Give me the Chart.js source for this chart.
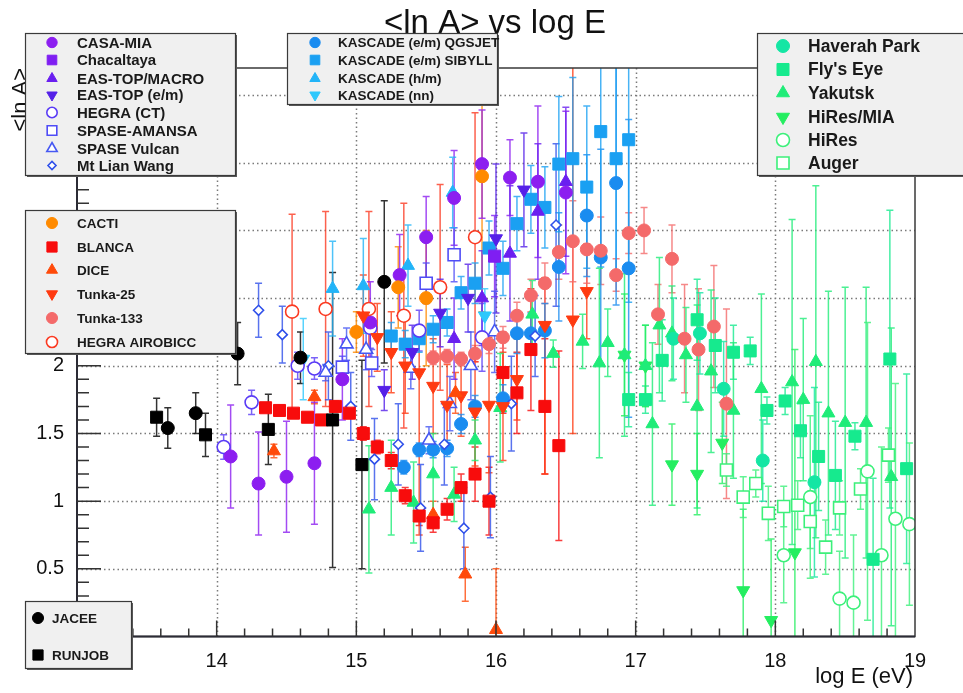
<!DOCTYPE html>
<html>
<head>
<meta charset="utf-8">
<title>&lt;ln A&gt; vs log E</title>
<script src="https://cdn.jsdelivr.net/npm/chart.js@4.4.1/dist/chart.umd.min.js"></script>
<style>
  html, body { margin: 0; padding: 0; background: #fff; }
  canvas { display: block; }
</style>
</head>
<body>
<canvas id="lnAChart" width="963" height="693"></canvas>
<script>
"use strict";

// log10(E / eV), <ln A> and its error for every experiment
// an error is either symmetric or [below, above]
const jaceeE = [13.65, 13.85, 14.15, 14.6, 15.2];
const jaceeLnA = [1.54, 1.65, 2.09, 2.06, 2.62];
const jaceeErr = [0.15, 0.15, 0.23, 0.19, 0.6];

const runjobE = [13.57, 13.92, 14.37, 14.83, 15.04];
const runjobLnA = [1.62, 1.49, 1.53, 1.6, 1.27];
const runjobErr = [0.14, 0.16, 0.26, 1.09, 0.77];

const casaMiaE = [14.1, 14.3, 14.5, 14.7, 14.9, 15.1, 15.31, 15.5, 15.7, 15.9, 16.1, 16.3, 16.5];
const casaMiaLnA = [1.33, 1.13, 1.18, 1.28, 1.9, 2.32, 2.67, 2.95, 3.24, 3.49, 3.39, 3.36, 3.28];
const casaMiaErr = [0.38, 0.38, 0.41, 0.45, 0.3, 0.3, 0.3, 0.3, 0.35, 0.4, 0.28, 0.56, 0.6];

const chacaltayaE = [15.99];
const chacaltayaLnA = [2.81];
const chacaltayaErr = [0.3];

const easTopMacroE = [15.7, 15.9, 16.1, 16.3, 16.5];
const easTopMacroLnA = [2.2, 2.5, 2.83, 3.14, 3.36];
const easTopMacroErr = [0.3, 0.35, 0.5, 0.5, 0.55];

const easTopEmE = [15.2, 15.4, 15.6, 15.8, 16.0, 16.2];
const easTopEmLnA = [1.82, 2.1, 2.39, 2.5, 2.94, 3.3];
const easTopEmErr = [0.15, 0.2, 0.25, 0.25, 0.55, 0.42];

const hegraCtE = [14.05, 14.25, 14.58, 14.7, 15.1, 15.45, 15.9];
const hegraCtLnA = [1.4, 1.73, 2.0, 1.98, 2.28, 2.26, 2.21];
const hegraCtErr = [0.09, 0.09, 0.1, 0.08, 0.15, 0.15, 0.25];

const spaseAmansaE = [14.9, 15.11, 15.5, 15.7];
const spaseAmansaLnA = [1.99, 2.02, 2.61, 2.82];
const spaseAmansaErr = [0.08, 0.1, 0.15, 0.2];

const spaseVulcanE = [14.78, 14.93, 15.07, 15.39, 15.52, 15.67, 15.82, 15.99];
const spaseVulcanLnA = [1.95, 2.16, 2.12, 1.98, 1.45, 1.72, 2.0, 2.25];
const spaseVulcanErr = [0.06, 0.12, 0.15, 0.15, 0.1, 0.2, 0.25, 0.3];

const mtLianWangE = [14.3, 14.47, 14.8, 14.96, 15.13, 15.3, 15.46, 15.63, 15.77, 15.96, 16.11, 16.28, 16.43];
const mtLianWangLnA = [2.41, 2.23, 2.0, 1.7, 1.31, 1.42, 0.95, 1.42, 0.8, 1.03, 1.72, 2.22, 3.04];
const mtLianWangErr = [0.2, 0.21, 0.25, 0.25, 0.3, 0.3, 0.32, 0.3, 0.3, 0.3, 0.35, 0.3, 0.6];

const kascadeQgsjetE = [15.34, 15.45, 15.55, 15.65, 15.75, 15.85, 16.05, 16.15, 16.25, 16.35, 16.45, 16.65, 16.75, 16.86, 16.95];
const kascadeQgsjetLnA = [1.25, 1.38, 1.38, 1.39, 1.57, 1.7, 1.76, 2.24, 2.24, 2.26, 2.73, 3.11, 2.8, 3.35, 2.72];
const kascadeQgsjetErr = [0.05, 0.05, 0.06, 0.06, 0.07, 0.08, 0.1, 0.15, 0.15, 0.2, 0.4, 0.45, 0.8, 0.9, 1.1];

const kascadeSibyllE = [15.25, 15.35, 15.45, 15.55, 15.65, 15.75, 15.85, 15.95, 16.05, 16.15, 16.25, 16.35, 16.45, 16.55, 16.65, 16.75, 16.86, 16.95];
const kascadeSibyllLnA = [2.22, 2.16, 2.2, 2.27, 2.32, 2.54, 2.61, 2.87, 2.72, 3.05, 3.23, 3.17, 3.49, 3.53, 3.32, 3.73, 3.53, 3.67];
const kascadeSibyllErr = [0.1, 0.1, 0.1, 0.1, 0.1, 0.12, 0.15, 0.2, 0.2, 0.2, 0.25, 0.3, 0.5, 0.6, 0.6, 1.0, 0.9, 1.2];

const kascadeHmE = [14.83, 15.05, 15.37, 15.69];
const kascadeHmLnA = [2.57, 2.59, 2.74, 3.28];
const kascadeHmErr = [0.35, 0.35, 0.3, 0.26];

const kascadeNnE = [14.62, 15.92];
const kascadeNnLnA = [2.05, 2.37];
const kascadeNnErr = [0.3, 0.2];

const cactiE = [15.0, 15.3, 15.5, 15.9];
const cactiLnA = [2.25, 2.58, 2.5, 3.4];
const cactiErr = [0.15, 0.3, 0.5, 1.0];

const blancaE = [14.35, 14.45, 14.55, 14.65, 14.75, 14.85, 14.95, 15.05, 15.15, 15.25, 15.35, 15.45, 15.55, 15.65, 15.75, 15.85, 15.95, 16.05, 16.15, 16.25, 16.35, 16.45];
const blancaLnA = [1.69, 1.67, 1.65, 1.62, 1.6, 1.7, 1.65, 1.5, 1.4, 1.3, 1.04, 0.89, 0.84, 0.94, 1.1, 1.2, 1.0, 1.95, 1.8, 2.12, 1.7, 1.41];
const blancaErr = [0.03, 0.03, 0.03, 0.03, 0.03, 0.04, 0.04, 0.05, 0.05, 0.06, 0.06, 0.07, 0.07, 0.08, 0.1, 0.2, 0.25, 0.3, 0.3, 0.45, 0.5, 0.7];

const diceE = [14.41, 14.7, 15.55, 15.71, 15.78, 16.0];
const diceLnA = [1.37, 1.77, 0.9, 1.8, 0.46, 0.05];
const diceErr = [0.05, 0.05, 0.1, 0.15, 0.2, 0.45];

const tunka25E = [15.05, 15.15, 15.25, 15.35, 15.45, 15.55, 15.65, 15.75, 15.85, 15.95, 16.05, 16.15, 16.35, 16.55, 16.65];
const tunka25LnA = [2.37, 2.21, 2.1, 2.0, 1.95, 1.85, 1.71, 1.78, 1.66, 1.71, 1.7, 1.9, 2.3, 2.34, 2.55];
const tunka25Err = [0.3, 0.25, 0.3, 0.35, [1.2, 0.3], 0.35, 0.3, 0.3, 0.4, 0.5, 0.4, 0.3, [1.1, 0.35], [0.84, 1.9], 0.35];

const tunka133E = [15.55, 15.65, 15.75, 15.85, 15.95, 16.05, 16.15, 16.25, 16.35, 16.45, 16.55, 16.65, 16.75, 16.86, 16.95, 17.06, 17.16, 17.26, 17.35, 17.45, 17.56, 17.65];
const tunka133LnA = [2.06, 2.07, 2.05, 2.09, 2.16, 2.21, 2.37, 2.52, 2.61, 2.84, 2.92, 2.86, 2.85, 2.67, 2.98, 3.0, 2.38, 2.79, 2.2, 2.12, 2.29, 1.72];
const tunka133Err = [0.05, 0.05, 0.05, 0.06, 0.07, 0.08, 0.1, 0.12, 0.15, 0.2, 0.3, 0.25, 0.25, 0.12, 0.15, 0.17, 0.22, 0.25, 0.4, 0.45, 0.45, 0.7];

const hegraAirobiccE = [14.54, 14.78, 15.09, 15.34, 15.6, 15.85];
const hegraAirobiccLnA = [2.4, 2.42, 2.42, 2.37, 2.58, 2.95];
const hegraAirobiccErr = [0.72, 0.72, 0.72, 0.83, 0.76, 0.92];

const haverahE = [17.27, 17.46, 17.63, 17.91, 18.28];
const haverahLnA = [2.2, 2.24, 1.83, 1.3, 1.14];
const haverahErr = [0.3, 0.3, 0.35, 0.3, 0.7];

const flysEyeE = [16.95, 17.07, 17.19, 17.44, 17.57, 17.7, 17.82, 17.94, 18.07, 18.18, 18.31, 18.43, 18.57, 18.7, 18.82, 18.94];
const flysEyeLnA = [1.75, 1.75, 2.04, 2.34, 2.15, 2.1, 2.11, 1.67, 1.74, 1.52, 1.33, 1.19, 1.48, 0.57, 2.05, 1.24];
const flysEyeErr = [0.2, 0.1, 0.3, 0.3, 0.35, 0.2, 0.1, 0.1, 0.1, 0.2, 0.4, 0.4, 0.1, 0.6, 1.1, 0.7];

const yakutskE = [15.09, 15.25, 15.41, 15.55, 15.7, 15.85, 16.03, 16.26, 16.41, 16.62, 16.74, 16.8, 16.92, 17.07, 17.12, 17.17, 17.26, 17.36, 17.44, 17.54, 17.7, 17.9, 18.12, 18.2, 18.29, 18.38, 18.5, 18.65, 18.83];
const yakutskLnA = [0.94, 1.1, 0.99, 1.2, 1.05, 1.45, 1.69, 2.38, 2.09, 2.18, 2.02, 2.17, 2.08, 2.0, 1.57, 2.3, 2.24, 2.08, 1.7, 1.96, 1.67, 1.83, 1.88, 1.75, 2.03, 1.65, 1.58, 1.58, 1.18];
const yakutskErr = [0.47, 0.35, 0.3, 0.3, 0.2, 0.15, 0.4, 0.25, 0.1, 0.2, 0.7, 0.25, 0.6, 0.3, 0.6, 0.5, 0.35, 0.35, 0.75, 0.6, 0.5, 0.7, 1.2, 0.6, 1.3, 0.9, 1.0, 1.0, 1.1];

const hiresMiaE = [16.92, 17.07, 17.26, 17.44, 17.62, 17.77, 17.97, 18.14];
const hiresMiaLnA = [2.08, 2.0, 1.27, 1.2, 1.43, 0.34, 0.12, 0.62];
const hiresMiaErr = [0.45, 0.3, 0.3, 0.3, 0.3, 0.6, 0.6, 1.5];

const hiresE = [18.06, 18.25, 18.46, 18.56, 18.66, 18.76, 18.86, 18.96];
const hiresLnA = [0.6, 1.03, 0.28, 0.25, 1.22, 0.6, 0.87, 0.83];
const hiresErr = [0.35, 0.6, 0.35, 0.5, 1.1, 0.8, 1.0, 0.6];

const augerE = [17.65, 17.77, 17.86, 17.95, 18.06, 18.16, 18.25, 18.36, 18.46, 18.61, 18.81];
const augerLnA = [1.23, 1.03, 1.13, 0.91, 0.96, 0.97, 0.85, 0.66, 0.95, 1.09, 1.34];
const augerErr = [0.12, 0.15, 0.1, 0.2, 0.15, 0.18, 0.2, 0.2, 0.2, 0.15, 0.2];

// axis ranges and ticks
const xMin = 13, xMax = 19;
const yMin = 0, yMax = 4.2;
const xTickValues = [14, 15, 16, 17, 18, 19];
const yTickValues = [0.5, 1, 1.5, 2, 2.5, 3, 3.5, 4];
const xGridValues = [14, 15, 16, 17, 18];
const xMinorStep = 0.2, yMinorStep = 0.1;

const fontFamily = "'Liberation Sans', Arial, Helvetica, sans-serif";

// ROOT-like marker shapes
const markers = {
  circle: { pointStyle: "circle", radius: 6.5, open: false },
  square: { pointStyle: "rect", radius: 8.5, open: false },
  up: { pointStyle: "triangle", radius: 7.5, open: false },
  down: { pointStyle: "triangle", radius: 7.5, rotation: 180, open: false },
  openCircle: { pointStyle: "circle", radius: 6.5, open: true },
  openSquare: { pointStyle: "rect", radius: 8.5, open: true },
  openUp: { pointStyle: "triangle", radius: 7.5, open: true },
  diamond: { pointStyle: "rectRot", radius: 5, open: true },
};

const series = [
  { label: "JACEE", e: jaceeE, lnA: jaceeLnA, err: jaceeErr, color: "#000000", marker: "circle" },
  { label: "RUNJOB", e: runjobE, lnA: runjobLnA, err: runjobErr, color: "#000000", marker: "square" },
  { label: "CACTI", e: cactiE, lnA: cactiLnA, err: cactiErr, color: "#ff8a00", marker: "circle" },
  { label: "BLANCA", e: blancaE, lnA: blancaLnA, err: blancaErr, color: "#f80c0c", marker: "square" },
  { label: "DICE", e: diceE, lnA: diceLnA, err: diceErr, color: "#ff4a0a", marker: "up" },
  { label: "Tunka-25", e: tunka25E, lnA: tunka25LnA, err: tunka25Err, color: "#ff3a10", marker: "down" },
  { label: "Tunka-133", e: tunka133E, lnA: tunka133LnA, err: tunka133Err, color: "#f46a6a", marker: "circle" },
  { label: "HEGRA AIROBICC", e: hegraAirobiccE, lnA: hegraAirobiccLnA, err: hegraAirobiccErr, color: "#fb3a22", marker: "openCircle" },
  { label: "CASA-MIA", e: casaMiaE, lnA: casaMiaLnA, err: casaMiaErr, color: "#8c1ef0", marker: "circle" },
  { label: "Chacaltaya", e: chacaltayaE, lnA: chacaltayaLnA, err: chacaltayaErr, color: "#7f1ef2", marker: "square" },
  { label: "EAS-TOP/MACRO", e: easTopMacroE, lnA: easTopMacroLnA, err: easTopMacroErr, color: "#6a1ff0", marker: "up" },
  { label: "EAS-TOP (e/m)", e: easTopEmE, lnA: easTopEmLnA, err: easTopEmErr, color: "#5520e8", marker: "down" },
  { label: "HEGRA (CT)", e: hegraCtE, lnA: hegraCtLnA, err: hegraCtErr, color: "#5a3cf6", marker: "openCircle" },
  { label: "SPASE-AMANSA", e: spaseAmansaE, lnA: spaseAmansaLnA, err: spaseAmansaErr, color: "#4f4cf6", marker: "openSquare" },
  { label: "SPASE Vulcan", e: spaseVulcanE, lnA: spaseVulcanLnA, err: spaseVulcanErr, color: "#4658f2", marker: "openUp" },
  { label: "Mt Lian Wang", e: mtLianWangE, lnA: mtLianWangLnA, err: mtLianWangErr, color: "#2f50ea", marker: "diamond" },
  { label: "KASCADE (e/m) QGSJET", e: kascadeQgsjetE, lnA: kascadeQgsjetLnA, err: kascadeQgsjetErr, color: "#1a8cf0", marker: "circle" },
  { label: "KASCADE (e/m) SIBYLL", e: kascadeSibyllE, lnA: kascadeSibyllLnA, err: kascadeSibyllErr, color: "#1aa0f2", marker: "square" },
  { label: "KASCADE (h/m)", e: kascadeHmE, lnA: kascadeHmLnA, err: kascadeHmErr, color: "#22b4f8", marker: "up" },
  { label: "KASCADE (nn)", e: kascadeNnE, lnA: kascadeNnLnA, err: kascadeNnErr, color: "#2ec8fc", marker: "down" },
  { label: "Haverah Park", e: haverahE, lnA: haverahLnA, err: haverahErr, color: "#14e6a4", marker: "circle" },
  { label: "Fly's Eye", e: flysEyeE, lnA: flysEyeLnA, err: flysEyeErr, color: "#16ea8e", marker: "square" },
  { label: "Yakutsk", e: yakutskE, lnA: yakutskLnA, err: yakutskErr, color: "#1fec78", marker: "up" },
  { label: "HiRes/MIA", e: hiresMiaE, lnA: hiresMiaLnA, err: hiresMiaErr, color: "#24ee60", marker: "down" },
  { label: "HiRes", e: hiresE, lnA: hiresLnA, err: hiresErr, color: "#3cf07a", marker: "openCircle" },
  { label: "Auger", e: augerE, lnA: augerLnA, err: augerErr, color: "#3cf07a", marker: "openSquare" },
];

// legend panels, drawn over the frame like ROOT TLegends
const legendBoxes = [
  { x0: 25, y0: 33, x1: 235, y1: 175, markX: 52, textX: 77, size: 15, markScale: 0.8,
    rows: [42.5, 60, 78.5, 95, 112.5, 130.5, 148.5, 165.5],
    labels: ["CASA-MIA", "Chacaltaya", "EAS-TOP/MACRO", "EAS-TOP (e/m)", "HEGRA (CT)", "SPASE-AMANSA", "SPASE Vulcan", "Mt Lian Wang"] },
  { x0: 287, y0: 33, x1: 497, y1: 104, markX: 315, textX: 338, size: 13.5, markScale: 0.8,
    rows: [42.5, 60, 78.5, 95],
    labels: ["KASCADE (e/m) QGSJET", "KASCADE (e/m) SIBYLL", "KASCADE (h/m)", "KASCADE (nn)"] },
  { x0: 757, y0: 33, x1: 966, y1: 175, markX: 783, textX: 808, size: 17.5, markScale: 1,
    rows: [46, 69.5, 93, 117, 140, 163],
    labels: ["Haverah Park", "Fly's Eye", "Yakutsk", "HiRes/MIA", "HiRes", "Auger"] },
  { x0: 25, y0: 210, x1: 235, y1: 353, markX: 52, textX: 77, size: 13.5, markScale: 0.85,
    rows: [223, 247, 270, 294, 318, 342],
    labels: ["CACTI", "BLANCA", "DICE", "Tunka-25", "Tunka-133", "HEGRA AIROBICC"] },
  { x0: 25, y0: 601, x1: 131, y1: 668, markX: 38, textX: 52, size: 13.5, markScale: 0.85,
    rows: [618, 655],
    labels: ["JACEE", "RUNJOB"] },
];

function withAlpha(hex, a) {
  const n = parseInt(hex.slice(1), 16);
  return `rgba(${(n >> 16) & 255}, ${(n >> 8) & 255}, ${n & 255}, ${a})`;
}

const datasets = series.map((s) => {
  const m = markers[s.marker];
  return {
    label: s.label,
    data: s.e.map((v, i) => ({ x: v, y: s.lnA[i] })),
    errors: s.err,
    barColor: withAlpha(s.color, 0.8),
    pointStyle: m.pointStyle,
    pointRadius: m.radius,
    pointRotation: m.rotation || 0,
    backgroundColor: m.open ? "#ffffff" : s.color,
    borderColor: s.color,
    borderWidth: m.open ? 1.6 : 1,
    showLine: false,
  };
});

// dotted grid behind everything
const dottedGrid = {
  id: "dottedGrid",
  beforeDatasetsDraw(chart) {
    const { ctx, chartArea: a, scales: { x, y } } = chart;
    ctx.save();
    ctx.strokeStyle = "#7a7a7a";
    ctx.lineWidth = 1.5;
    ctx.setLineDash([1.5, 3]);
    ctx.beginPath();
    xGridValues.forEach((v) => {
      const px = Math.round(x.getPixelForValue(v)) + 0.5;
      ctx.moveTo(px, a.top);
      ctx.lineTo(px, a.bottom);
    });
    yTickValues.forEach((v) => {
      const py = Math.round(y.getPixelForValue(v)) + 0.5;
      ctx.moveTo(a.left, py);
      ctx.lineTo(a.right, py);
    });
    ctx.stroke();
    ctx.restore();
  },
};

// vertical error bars with small end caps
const errorBars = {
  id: "errorBars",
  beforeDatasetsDraw(chart) {
    const { ctx, chartArea: a, scales: { x, y } } = chart;
    ctx.save();
    ctx.beginPath();
    ctx.rect(a.left, a.top, a.right - a.left, a.bottom - a.top);
    ctx.clip();
    ctx.lineWidth = 1.5;
    chart.data.datasets.forEach((ds) => {
      ctx.strokeStyle = ds.barColor;
      ctx.beginPath();
      ds.data.forEach((p, j) => {
        const e = ds.errors[j];
        const lo = Array.isArray(e) ? e[0] : e;
        const hi = Array.isArray(e) ? e[1] : e;
        const px = x.getPixelForValue(p.x);
        const yLo = y.getPixelForValue(p.y - lo);
        const yHi = y.getPixelForValue(p.y + hi);
        ctx.moveTo(px, yLo);
        ctx.lineTo(px, yHi);
        ctx.moveTo(px - 3.5, yLo);
        ctx.lineTo(px + 3.5, yLo);
        ctx.moveTo(px - 3.5, yHi);
        ctx.lineTo(px + 3.5, yHi);
      });
      ctx.stroke();
    });
    ctx.restore();
  },
};

// frame and inward ticks
const frame = {
  id: "frame",
  afterDatasetsDraw(chart) {
    const { ctx, chartArea: a, scales: { x, y } } = chart;
    ctx.save();
    ctx.strokeStyle = "#3a3a3a";
    ctx.lineWidth = 1.5;
    ctx.strokeRect(a.left, a.top, a.right - a.left, a.bottom - a.top);
    ctx.strokeStyle = "#2b2b35";
    ctx.lineWidth = 2;
    ctx.beginPath();
    ctx.moveTo(a.left, a.top);
    ctx.lineTo(a.left, a.bottom);
    ctx.lineTo(a.right, a.bottom);
    ctx.stroke();

    ctx.lineWidth = 1.5;
    ctx.strokeStyle = "#333";
    ctx.beginPath();
    const nx = Math.round((xMax - xMin) / xMinorStep);
    for (let k = 1; k < nx; k++) {
      const px = x.getPixelForValue(xMin + k * xMinorStep);
      const len = k % 5 === 0 ? 16 : 8;
      ctx.moveTo(px, a.bottom);
      ctx.lineTo(px, a.bottom - len);
    }
    const ny = Math.round((yMax - yMin) / yMinorStep);
    for (let k = 1; k <= ny; k++) {
      const py = y.getPixelForValue(yMin + k * yMinorStep);
      const len = k % 5 === 0 ? 24 : 12;
      ctx.moveTo(a.left, py);
      ctx.lineTo(a.left + len, py);
    }
    ctx.stroke();
    ctx.restore();
  },
};

// title, axis titles and the legend panels
const annotations = {
  id: "annotations",
  afterDraw(chart) {
    const { ctx, chartArea: a } = chart;
    ctx.save();
    ctx.fillStyle = "#111";
    ctx.font = `33px ${fontFamily}`;
    ctx.textAlign = "center";
    ctx.textBaseline = "alphabetic";
    ctx.fillText("<ln A> vs log E", 495, 33);

    ctx.font = `22px ${fontFamily}`;
    ctx.textAlign = "right";
    ctx.fillText("log E (eV)", a.right - 2, 683);

    ctx.save();
    ctx.translate(27, a.top);
    ctx.rotate(-Math.PI / 2);
    ctx.textAlign = "right";
    ctx.fillText("<ln A>", 0, 0);
    ctx.restore();

    legendBoxes.forEach((box) => {
      const w = box.x1 - box.x0, h = box.y1 - box.y0;
      ctx.fillStyle = "#5a5a5a";
      ctx.fillRect(box.x0 + 2, box.y0 + 2, w, h);
      ctx.fillStyle = "#f0f0f0";
      ctx.fillRect(box.x0, box.y0, w, h);
      ctx.strokeStyle = "#3a3a3a";
      ctx.lineWidth = 1.2;
      ctx.strokeRect(box.x0 + 0.5, box.y0 + 0.5, w, h);

      box.labels.forEach((label, i) => {
        const ds = chart.data.datasets.find((d) => d.label === label);
        const ry = box.rows[i];
        ctx.fillStyle = ds.backgroundColor;
        ctx.strokeStyle = ds.borderColor;
        ctx.lineWidth = ds.borderWidth;
        Chart.helpers.drawPoint(ctx, {
          pointStyle: ds.pointStyle,
          radius: ds.pointRadius * box.markScale,
          rotation: ds.pointRotation,
          borderWidth: ds.borderWidth,
        }, box.markX, ry);
        ctx.fillStyle = "#1a1a1a";
        ctx.font = `bold ${box.size}px ${fontFamily}`;
        ctx.textAlign = "left";
        ctx.textBaseline = "middle";
        ctx.fillText(label, box.textX, ry + 1);
      });
    });
    ctx.restore();
  },
};

Chart.defaults.font.family = fontFamily;

new Chart(document.getElementById("lnAChart"), {
  type: "scatter",
  data: { datasets },
  options: {
    responsive: false,
    animation: false,
    layout: { padding: { left: 0, top: 68, right: 48, bottom: 0 } },
    plugins: {
      legend: { display: false },
      tooltip: { enabled: false },
    },
    scales: {
      x: {
        type: "linear",
        min: xMin,
        max: xMax,
        grid: { display: false },
        border: { display: false },
        afterBuildTicks: (scale) => {
          scale.ticks = xTickValues.map((v) => ({ value: v }));
        },
        afterFit: (scale) => {
          scale.height = 56.5;
        },
        ticks: {
          color: "#111",
          font: { size: 20 },
          padding: 5,
          maxRotation: 0,
          callback: (v) => String(v),
        },
      },
      y: {
        type: "linear",
        min: yMin,
        max: yMax,
        grid: { display: false },
        border: { display: false },
        afterBuildTicks: (scale) => {
          scale.ticks = yTickValues.map((v) => ({ value: v }));
        },
        afterFit: (scale) => {
          scale.width = 77;
        },
        ticks: {
          color: "#111",
          font: { size: 20 },
          padding: 5,
          callback: (v) => String(v),
        },
      },
    },
  },
  plugins: [dottedGrid, errorBars, frame, annotations],
});
</script>
</body>
</html>
